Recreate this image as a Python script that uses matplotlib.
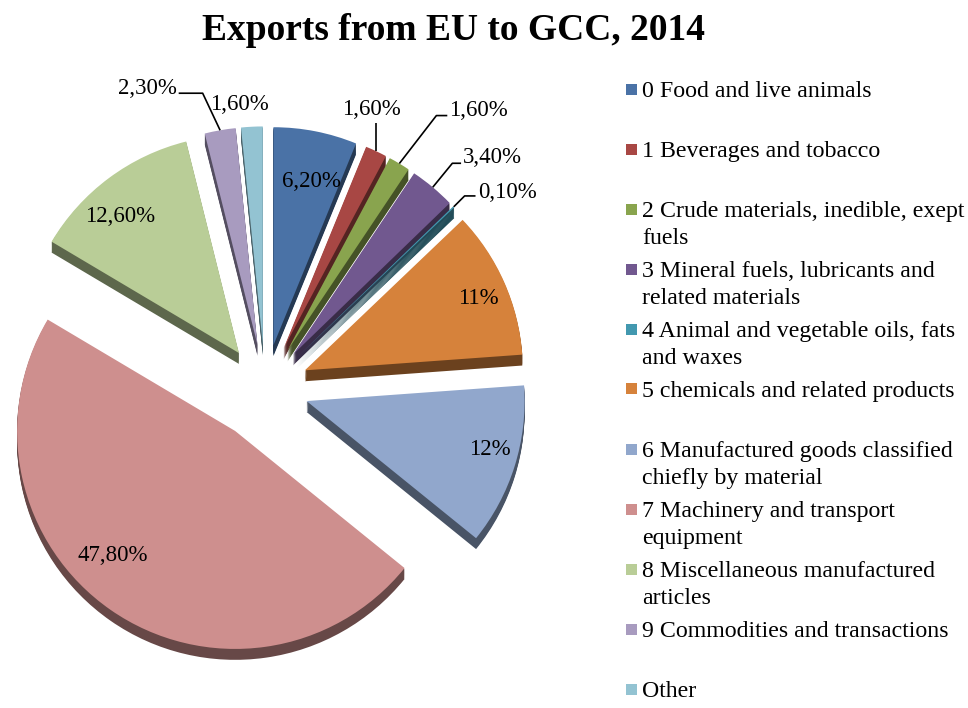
import matplotlib.pyplot as plt
import matplotlib.colors as mcolors
import numpy as np

# export shares by SITC section, percent
categories = [
    "0 Food and live animals",
    "1 Beverages and tobacco",
    "2 Crude materials, inedible, exept\nfuels",
    "3 Mineral fuels, lubricants and\nrelated materials",
    "4 Animal and vegetable oils, fats\nand waxes",
    "5 chemicals and related products",
    "6 Manufactured goods classified\nchiefly by material",
    "7 Machinery and transport\nequipment",
    "8 Miscellaneous manufactured\narticles",
    "9 Commodities and transactions",
    "Other",
]
shares = [6.2, 1.6, 1.6, 3.4, 0.1, 11, 12, 47.8, 12.6, 2.3, 1.6]

colors = ['#4A72A6', '#A84744', '#89A44E', '#71588F', '#4298AF', '#D6823B',
          '#91A7CC', '#CE8F8E', '#B9CD97', '#A89BBF', '#93C3D2']
explode = [0.2, 0.2, 0.2, 0.2, 0.2, 0.2, 0.2, 0.24, 0.2, 0.2, 0.2]

# labels drawn inside a wedge: index -> (distance from wedge tip, angle tweak in degrees)
inside = {0: (0.77, -2), 5: (0.86, -1.3), 6: (0.87, 2.6), 7: (0.80, -9.5), 8: (0.83, 4.4)}
# labels drawn outside: index -> (leader elbow, leader end, text offset, alignment)
outside = {
    1: ((0, 0.13), (0, 0.13), (-0.02, 0.19), 'center'),
    2: ((0.17, 0.22), (0.22, 0.22), (0.23, 0.245), 'left'),
    3: ((0.09, 0.11), (0.13, 0.11), (0.14, 0.135), 'left'),
    4: ((0.05, 0.05), (0.10, 0.05), (0.11, 0.065), 'left'),
    9: ((-0.08, 0.17), (-0.19, 0.17), (-0.20, 0.19), 'right'),
    10: (None, None, (-0.055, 0.10), 'center'),
}

plt.rcParams['font.family'] = ['Liberation Serif', 'DejaVu Serif']

W, H = 968, 708
PX = 218.0          # pixels per unit radius
cx, cy = 265, 388   # pie centre in pixels (from top-left)

fig = plt.figure(figsize=(W / 100, H / 100), dpi=100)
ax = fig.add_axes([0, (H - 700) / H, 560 / W, 630 / H])


def fmt(v):
    if float(v).is_integer():
        return f"{int(v)}%"
    return f"{v:.2f}".replace('.', ',') + "%"


# extruded sides: stacked darker copies shifted downward
depth = 0.05
steps = 10
side = [tuple(np.array(mcolors.to_rgb(c)) * 0.5) for c in colors]
for k in range(steps, 0, -1):
    ax.pie(shares, explode=explode, colors=side, startangle=90, counterclock=False,
           center=(0, -depth * k / steps), wedgeprops=dict(linewidth=0))

wedges, _ = ax.pie(shares, explode=explode, colors=colors, startangle=90,
                   counterclock=False, wedgeprops=dict(linewidth=0))

ax.set_aspect('auto')
ax.set_xlim(-cx / PX, (560 - cx) / PX)
ax.set_ylim(-(700 - cy) / PX, (cy - 70) / PX)
ax.axis('off')

for i, w in enumerate(wedges):
    mid = np.deg2rad((w.theta1 + w.theta2) / 2)
    x0, y0 = w.center
    if i in inside:
        r, dt = inside[i]
        a = mid + np.deg2rad(dt)
        ax.text(x0 + r * np.cos(a), y0 + r * np.sin(a), fmt(shares[i]),
                ha='center', va='center', fontsize=16.5)
    elif i in outside:
        e1, e2, t, ha = outside[i]
        px, py = x0 + w.r * np.cos(mid), y0 + w.r * np.sin(mid)
        if e1 is not None:
            ax.plot([px, px + e1[0], px + e2[0]], [py, py + e1[1], py + e2[1]],
                    color='black', lw=1.2, solid_capstyle='butt')
        ax.text(px + t[0], py + t[1], fmt(shares[i]), ha=ha, va='center', fontsize=16.5)

fig.text(453 / W, 1 - 30 / H, "Exports from EU to GCC, 2014",
         ha='center', va='center', fontsize=27, fontweight='bold')

# legend, one fixed-height slot per category
for i, (name, c) in enumerate(zip(categories, colors)):
    yc = 89 + 60.0 * i
    fig.patches.append(plt.Rectangle((626 / W, 1 - (yc + 5.5) / H), 11 / W, 11 / H,
                                     transform=fig.transFigure, color=c, lw=0))
    fig.text(642 / W, 1 - (yc - 8) / H, name, ha='left', va='top', fontsize=17.2,
             linespacing=1.4)

fig.savefig('out.png', dpi=100)
